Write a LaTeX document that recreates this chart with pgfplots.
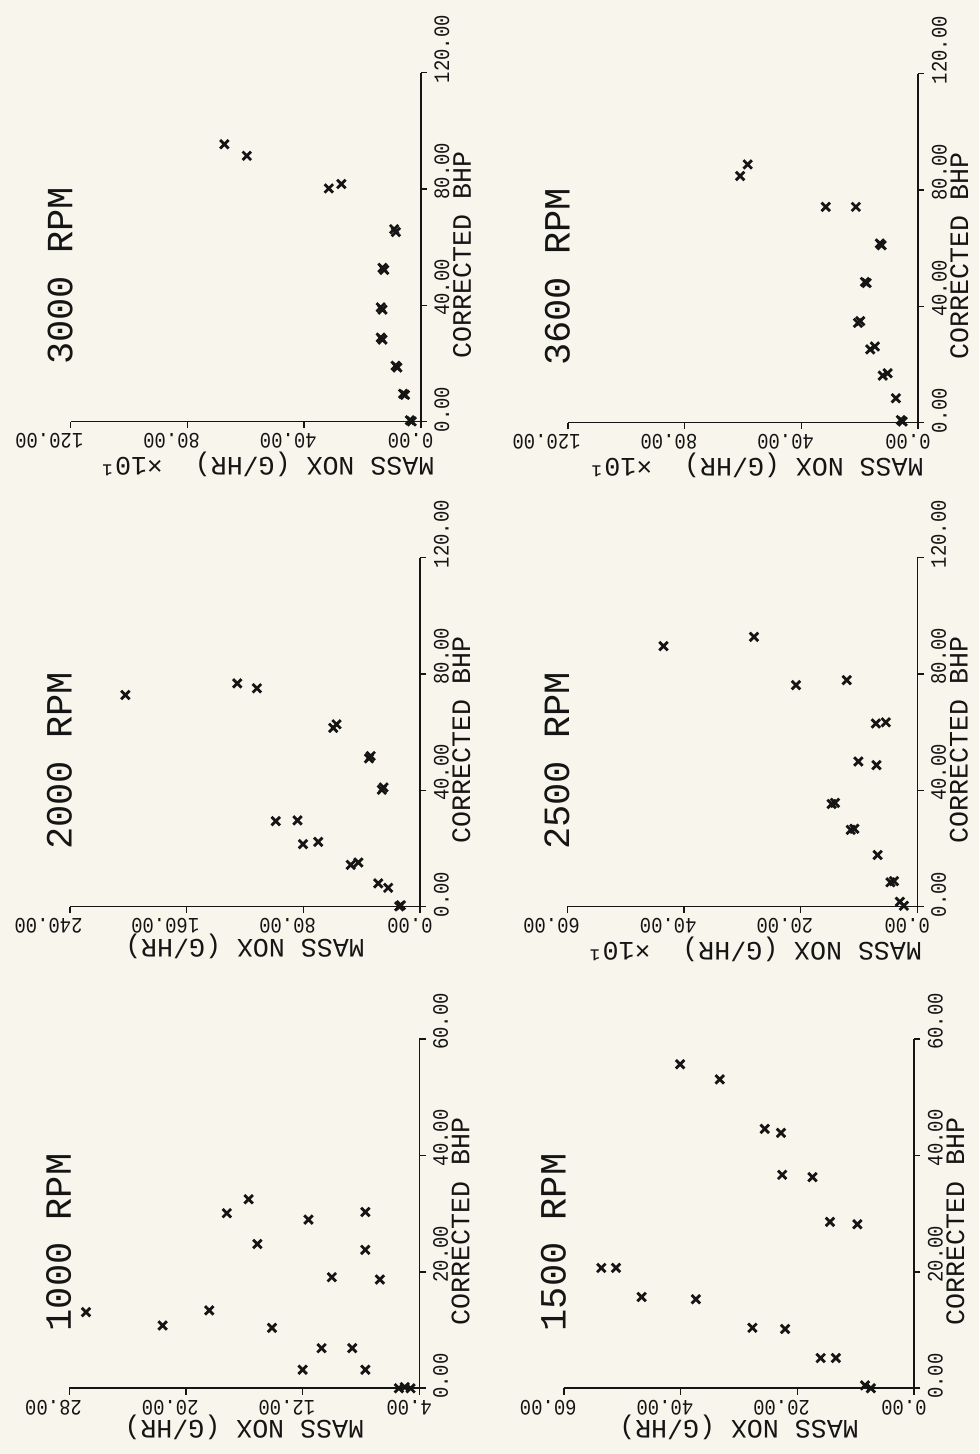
\documentclass[border=0pt]{standalone}
\usepackage{fontspec}
\setmainfont{Liberation Mono}
\newfontfamily\tickfam{Liberation Mono}[FakeStretch=0.86]
\usepackage{graphicx}
\usepackage{pgfplots}
\pgfplotsset{compat=1.18}
\definecolor{paper}{HTML}{F8F6EC}
\definecolor{ink}{HTML}{151515}
\newcommand\tickfont{\tickfam\fontsize{11}{12}\selectfont}
\newcommand\labelfont{\fontsize{13.3}{15}\selectfont}
\newcommand\titlefont{\fontsize{18.5}{20}\selectfont}
\pgfplotsset{
  panel/.style={
    scale only axis, width=175pt, height=174.5pt,
    axis x line=bottom, axis y line=right,
    axis line style={-, line width=0.8pt, ink},
    x dir=reverse, enlargelimits=false, clip=false,
    tick align=outside, major tick length=3.2pt,
    major tick style={line width=0.8pt, ink},
    minor tick num=0, scaled ticks=false, ymin=0,
    /pgf/number format/fixed, /pgf/number format/fixed zerofill,
    /pgf/number format/precision=2, /pgf/number format/assume math mode=true,
    xticklabel={\rotatebox{180}{\pgfmathprintnumber{\tick}}},
    yticklabel={\rotatebox{90}{\pgfmathprintnumber{\tick}}},
    xticklabel style={anchor=north east, inner sep=0pt, xshift=6.5pt, yshift=-2.4pt, font=\tickfont, text=ink},
    yticklabel style={anchor=south west, inner sep=0pt, xshift=3.5pt, yshift=-5.5pt, font=\tickfont, text=ink},
    every axis title/.style={at={(axis description cs:-0.03,0.162)}, anchor=south, inner sep=0pt, font=\titlefont, text=ink},
    every axis y label/.style={at={(axis description cs:1,0.478)}, anchor=west, inner sep=0pt, xshift=16pt, font=\labelfont, text=ink},
    every axis x label/.style={at={(axis description cs:0.5,0)}, anchor=north, inner sep=0pt, yshift=-13.3pt, font=\labelfont, text=ink},
    ylabel={\rotatebox{90}{CORRECTED~BHP}},
    xlabel={\rotatebox{180}{MASS~NOX~(G/HR)}},
  },
  tenx/.style={xlabel={\rotatebox{180}{MASS~NOX~(G/HR)~~×10¹}},
    every axis x label/.append style={at={(axis description cs:1,0)}, anchor=north east, xshift=#1, yshift=-1.5pt}},
  pts/.style={only marks, mark=x, mark size=3pt, mark options={line width=1.4pt, ink}},
}
\begin{document}
\begin{tikzpicture}
\path[use as bounding box, fill=paper] (0,0) rectangle (489.5pt,727pt);
% 3000 RPM
\begin{axis}[panel, tenx=7pt, at={(210.35pt,516.15pt)}, anchor=south east,
  title={\rotatebox{90}{3000 RPM}}, xmin=0, xmax=120, ymax=120, xtick={0,40,80,120}, ytick={0,40,80,120}]
\addplot[pts] table[x=nox,y=bhp] {
nox bhp
67.3 95.4
59.6 91.4
31.5 80.2
27.2 81.7
9.1 66.2
8.5 65.2
13.1 52.9
12.5 52.2
13.7 39.3
13.1 38.5
13.7 28.9
13.1 28.2
8.6 19.2
8.0 18.6
6.0 9.6
5.4 9.2
3.7 0.5
3.1 0.1
};
\end{axis}
% 3600 RPM
\begin{axis}[panel, tenx=3pt, at={(459pt,515.65pt)}, anchor=south east,
  title={\rotatebox{90}{3600 RPM}}, xmin=0, xmax=120, ymax=120, xtick={0,40,80,120}, ytick={0,40,80,120}]
\addplot[pts] table[x=nox,y=bhp] {
nox bhp
61.0 84.8
58.4 88.8
31.6 74.2
21.3 74.2
13.1 61.6
12.5 61.0
18.2 48.4
17.6 48.0
20.6 34.3
19.8 34.9
16.4 25.2
14.8 26.2
12.1 16.2
10.4 17.0
7.6 8.4
5.9 0.9
5.3 0.4
};
\end{axis}
% 2000 RPM
\begin{axis}[panel, at={(210pt,273.65pt)}, anchor=south east,
  title={\rotatebox{90}{2000 RPM}}, xmin=0, xmax=240, ymax=120, xtick={0,80,160,240}, ytick={0,40,80,120}]
\addplot[pts] table[x=nox,y=bhp] {
nox bhp
202.0 72.8
125.3 76.8
111.8 75.1
59.5 61.5
57.2 62.7
35.0 51.0
33.8 51.8
26.2 40.2
25.0 41.0
98.9 29.4
84.0 29.7
80.2 21.5
69.8 22.3
47.5 14.4
42.2 15.2
28.6 8.0
21.8 6.5
14.3 0.1
13.1 0.5
};
\end{axis}
% 2500 RPM
\begin{axis}[panel, tenx=2.5pt, at={(458.65pt,273.65pt)}, anchor=south east,
  title={\rotatebox{90}{2500 RPM}}, xmin=0, xmax=60, ymax=120, xtick={0,20,40,60}, ytick={0,40,80,120}]
\addplot[pts] table[x=nox,y=bhp] {
nox bhp
43.5 89.6
28.0 92.8
20.8 76.2
12.1 77.9
7.1 63.0
5.4 63.4
10.1 49.9
7.0 48.7
14.7 35.3
14.1 35.7
11.4 26.4
10.8 26.8
6.8 17.8
4.6 8.4
4.0 8.8
3.0 1.7
2.3 0.3
};
\end{axis}
% 1000 RPM
\begin{axis}[panel, at={(209.65pt,32.85pt)}, anchor=south east,
  title={\rotatebox{90}{1000 RPM}}, xmin=4, xmax=28, ymax=60, xtick={4,12,20,28}, ytick={0,20,40,60}]
\addplot[pts] table[x=nox,y=bhp] {
nox bhp
26.86 13.1
21.6 10.8
18.4 13.4
17.2 30.1
15.7 32.5
15.1 24.8
14.1 10.4
11.6 29.0
12.0 3.2
10.7 6.9
10.0 19.1
8.6 6.9
7.7 30.3
7.7 23.8
6.7 18.7
7.7 3.2
5.4 0.0
5.0 0.2
4.6 0.0
};
\end{axis}
% 1500 RPM
\begin{axis}[panel, at={(457pt,32.85pt)}, anchor=south east,
  title={\rotatebox{90}{1500 RPM}}, xmin=0, xmax=60, ymax=60, xtick={0,20,40,60}, ytick={0,20,40,60}]
\addplot[pts] table[x=nox,y=bhp] {
nox bhp
40.1 55.7
33.3 53.1
25.6 44.6
22.8 43.9
22.6 36.7
17.4 36.3
14.4 28.6
9.7 28.2
53.6 20.7
51.1 20.7
46.7 15.7
37.4 15.3
27.7 10.4
22.1 10.2
16.0 5.2
13.4 5.2
8.4 0.5
7.4 0.0
};
\end{axis}
\end{tikzpicture}
\end{document}
